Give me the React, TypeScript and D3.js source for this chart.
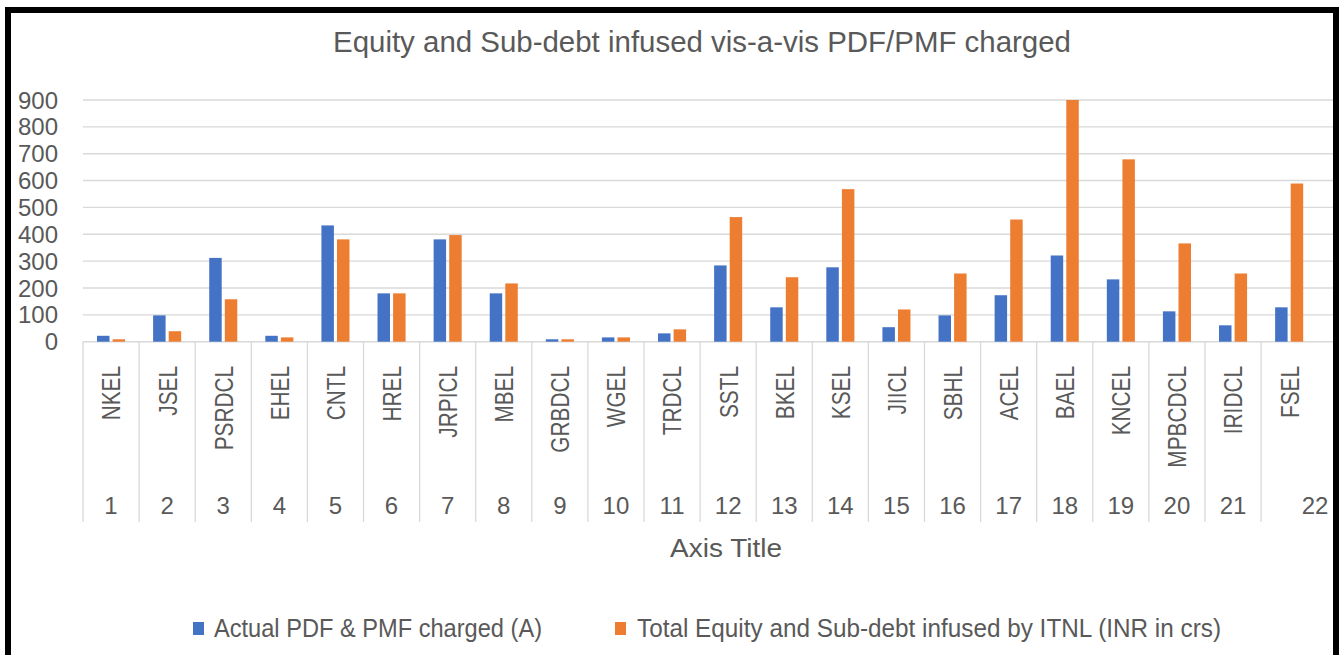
import React from "react";
import * as d3 from "d3";

const categories = ["NKEL","JSEL","PSRDCL","EHEL","CNTL","HREL","JRPICL","MBEL","GRBDCL","WGEL","TRDCL","SSTL","BKEL","KSEL","JIICL","SBHL","ACEL","BAEL","KNCEL","MPBCDCL","IRIDCL","FSEL"];
const serialNumbers = ["1","2","3","4","5","6","7","8","9","10","11","12","13","14","15","16","17","18","19","20","21","22"];
const actualPdfPmf = [22, 98, 312, 22, 433, 180, 381, 180, 9, 16, 31, 284, 128, 277, 54, 98, 173, 321, 232, 113, 61, 128];
const totalEquity = [9, 39, 158, 16, 381, 180, 397, 217, 9, 16, 46, 464, 240, 568, 120, 254, 455, 900, 679, 366, 254, 589];
const yTicks = [0, 100, 200, 300, 400, 500, 600, 700, 800, 900];
const seriesNames = ["Actual PDF & PMF charged (A)", "Total Equity and Sub-debt infused by ITNL (INR in crs)"];
const seriesKeys = ["a", "b"];
const title = "Equity and Sub-debt infused vis-a-vis PDF/PMF charged";
const axisTitle = "Axis Title";

const COLORS = ["#4472C4", "#ED7D31"];
const TEXT = "#595959";
const GRID = "#d9d9d9";
const FONT = "'Liberation Sans', Arial, sans-serif";

export default function App() {
  const W = 1344, H = 655;
  const plotLeft = 83, plotRight = 1333;
  const bandEnd = 83 + 22 * 56.1;
  const y0 = 341.7, yTop = 100;

  const x = d3.scaleBand<string>().domain(categories).range([plotLeft, bandEnd]).padding(0);
  const step = x.step();
  const xSub = d3.scaleBand<string>().domain(seriesKeys).range([step * 0.25, step * 0.75]).paddingInner(0.2);
  const y = d3.scaleLinear().domain([0, 900]).range([y0, yTop]);

  const rows = categories.map((c, i) => ({ c, a: actualPdfPmf[i], b: totalEquity[i] }));

  return (
    <svg width={W} height={H} style={{ position: "absolute", left: 0, top: 0, display: "block", background: "#fff" }}>
      <rect x={8} y={10} width={1328} height={700} fill="#fff" stroke="#000" strokeWidth={6} />
      <text x={(333 + 1071) / 2} y={52} textAnchor="middle" fontFamily={FONT} fontSize={30} fill={TEXT}
        textLength={738} lengthAdjust="spacingAndGlyphs">{title}</text>

      {yTicks.map((t) => (
        <g key={t}>
          <line x1={plotLeft} x2={plotRight} y1={y(t)} y2={y(t)} stroke={GRID} strokeWidth={1.4} />
          <text x={58} y={y(t)} dy="0.36em" textAnchor="end" fontFamily={FONT} fontSize={24} fill={TEXT}>{t}</text>
        </g>
      ))}

      {rows.map((r) => (
        <g key={r.c} transform={`translate(${x(r.c)},0)`}>
          {seriesKeys.map((k, j) => {
            const v = (r as any)[k] as number;
            return (
              <rect key={k} x={xSub(k)} width={xSub.bandwidth()} y={y(v)} height={y0 - y(v)} fill={COLORS[j]} />
            );
          })}
        </g>
      ))}

      {categories.map((c) => (
        <line key={"d" + c} x1={x(c)} x2={x(c)} y1={y0} y2={522} stroke={GRID} strokeWidth={1.3} />
      ))}

      {categories.map((c) => (
        <text key={"l" + c} transform={`translate(${(x(c) as number) + step / 2},366) rotate(-90) scale(0.8,1)`}
          dy="0.36em" textAnchor="end" fontFamily={FONT} fontSize={26} fill={TEXT}>{c}</text>
      ))}

      {serialNumbers.map((n, i) => {
        const start = x(categories[i]) as number;
        const last = i === serialNumbers.length - 1;
        const cx = last ? plotRight - 18 : start + step / 2;
        return (
          <text key={"n" + n} x={cx} y={514} textAnchor="middle" fontFamily={FONT} fontSize={24} fill={TEXT}>{n}</text>
        );
      })}

      <text x={726} y={557} textAnchor="middle" fontFamily={FONT} fontSize={26} fill={TEXT}
        textLength={112} lengthAdjust="spacingAndGlyphs">{axisTitle}</text>

      <rect x={193} y={622} width={11} height={13} fill={COLORS[0]} />
      <text x={214} y={637} fontFamily={FONT} fontSize={25} fill={TEXT} textLength={328} lengthAdjust="spacingAndGlyphs">{seriesNames[0]}</text>
      <rect x={615} y={622} width={11} height={13} fill={COLORS[1]} />
      <text x={637} y={637} fontFamily={FONT} fontSize={25} fill={TEXT} textLength={584} lengthAdjust="spacingAndGlyphs">{seriesNames[1]}</text>
    </svg>
  );
}
